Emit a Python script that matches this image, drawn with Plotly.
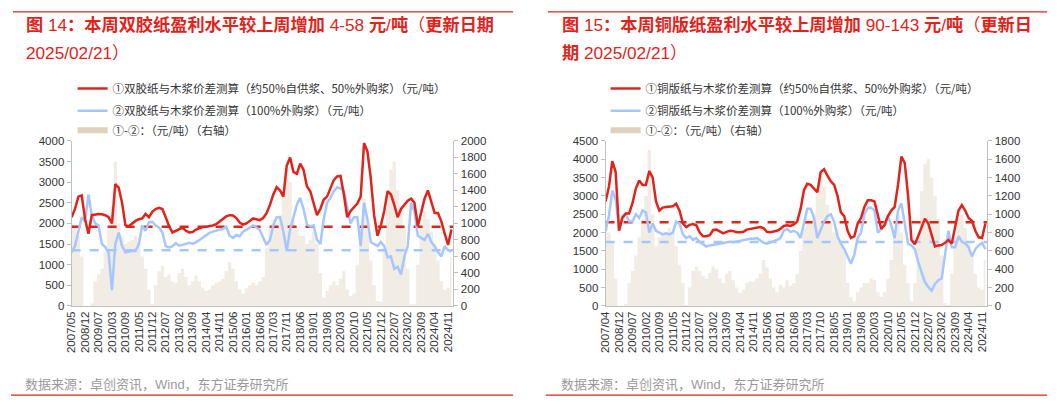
import plotly.graph_objects as go
import numpy as np

W, H = 1061, 408
RED = "#E2231A"
BLUE = "#A6C6FF"
BEIGE = "#F1EDE4"
BEIGE_LEG = "#DDD3BD"
AXC = "#BFBFBF"

# ---------------- data: chart A (双胶纸) ----------------
labels_a = ["2007/05", "2008/12", "2009/07", "2010/03", "2010/09", "2011/05", "2011/12",
            "2012/07", "2013/02", "2013/09", "2014/04", "2014/11", "2015/06", "2016/01",
            "2016/08", "2017/03", "2017/11", "2018/06", "2019/01", "2019/08", "2020/03",
            "2020/10", "2021/05", "2021/12", "2022/07", "2023/02", "2023/09", "2024/04",
            "2024/11"]

red_a = [2150, 2350, 2650, 2680, 2100, 1750, 2200, 2220, 2230, 2220,
         2200, 2150, 2000, 2950, 2870, 2500, 1960, 1930, 2000, 2060,
         2100, 2120, 2230, 2150, 2280, 2350, 2380, 2350, 2150, 1930,
         1780, 1820, 1880, 1900, 1820, 1780, 1790, 1850, 1880, 1910,
         1920, 1930, 1950, 1980, 2050, 2120, 2170, 2200, 2190, 2130,
         2020, 1970, 2000, 2060, 2120, 2100, 2080, 2130, 2250, 2450,
         2700, 2880, 2800, 2650, 3400, 3600, 3250, 3200, 3450, 3300,
         2900, 2780, 2500, 2200, 2350, 2580, 2650, 2850, 3050, 3140,
         3150, 2700, 2150, 2300, 2400, 2480, 2650, 3950, 3750, 3100,
         2200, 1700, 1950, 2300, 2780, 2700, 2450, 2150, 2350, 2450,
         2550, 2600, 2500, 1930, 2250, 2600, 2800, 2550, 2250, 2250,
         2050, 1750, 1480, 1850]

blue_a = [1300, 1450, 1800, 2150, 2050, 2700, 2200, 2000, 1950, 1500,
          1430, 1280, 380, 1500, 1780, 1450, 1300, 1320, 1330, 1330,
          1500, 1950, 1820, 2030, 2040, 1950, 1900, 1780, 1450, 1420,
          1450, 1520, 1460, 1480, 1500, 1530, 1510, 1540, 1600, 1660,
          1720, 1770, 1800, 1820, 1850, 1870, 1920, 1700, 1650, 1720,
          1690, 1800, 1850, 1900, 1950, 1900, 1840, 1650, 1480, 1600,
          1950, 2150, 2150, 1800, 1330, 1850, 2150, 2450, 2620, 2350,
          1980, 1920, 1950, 1600, 1500, 2100, 2500, 2620, 2780, 2880,
          2850, 2800, 2400, 2000, 2150, 2150, 1450, 2500, 2100, 1550,
          1500, 1450, 1550, 1450, 1180, 1200, 900, 950, 760, 1200,
          1450, 2500, 2300, 1700, 1650, 1600, 1750, 1550, 1450, 1300,
          1200, 1450, 1350, 1320]

diff_a = [1000, 980, 850, 600, 0, 0, 30, 300, 380, 450,
          650, 950, 1200, 1750, 1000, 850, 750, 780, 800, 850,
          780, 600, 450, 200, 20, 250, 420, 480, 350, 380,
          300, 280, 400, 450, 350, 250, 300, 370, 300, 220,
          180, 200, 250, 280, 300, 330, 420, 530, 450, 300,
          200, 150, 220, 250, 280, 250, 300, 350, 700, 950,
          1050, 1000, 1100, 1400, 1650, 1500, 1050, 950, 850, 850,
          750, 800, 900, 750, 400, 100, 180, 250, 300, 250,
          330, 420, 200, 120, 150, 500, 950, 1300, 1000, 550,
          250, 60, 50, 700, 1350, 1650, 1750, 1400, 1200, 950,
          450, 20, 20, 500, 950, 1150, 1050, 900, 750, 550,
          300, 200, 220, 600]

avg_red_a, avg_blue_a = 1920, 1350

# ---------------- data: chart B (铜版纸) ----------------
labels_b = ["2007/04", "2008/12", "2009/07", "2010/02", "2010/09", "2011/05", "2011/12",
            "2012/07", "2013/02", "2013/09", "2014/04", "2014/11", "2015/06", "2016/01",
            "2016/08", "2017/03", "2017/10", "2018/05", "2019/01", "2019/08", "2020/03",
            "2020/10", "2021/05", "2021/12", "2022/07", "2023/02", "2023/09", "2024/04",
            "2024/11"]

red_b = [2850, 3250, 3950, 3650, 2050, 2400, 2520, 2520, 2800, 3200,
         3420, 3300, 3300, 3680, 3500, 2850, 2600, 2680, 2700, 2710,
         2720, 2790, 2600, 2250, 2150, 2210, 2230, 2200, 2000, 1900,
         1900, 1930, 2070, 2080, 2030, 1980, 2020, 2050, 2040, 2010,
         2010, 2020, 2080, 2100, 2130, 2140, 2150, 2120, 2020, 2010,
         2020, 2050, 2100, 2180, 2200, 2180, 2220, 2300, 2640, 3150,
         3330, 3300, 3200, 3100, 3650, 3730, 3550, 3400, 3300, 3000,
         2550, 2450, 2050, 1850, 1900, 2250, 2400, 2700, 2880, 2880,
         2850, 2500, 2100, 2200, 2450, 2600, 2700, 3300, 4070, 3900,
         3000, 1800, 1680, 1900, 2150, 2380, 2250, 1900, 1620, 1650,
         1660, 1720, 1800, 1700, 2150, 2600, 2750, 2600, 2400, 2320,
         2050, 1870, 1850, 2250]

blue_b = [2050, 2450, 3150, 2900, 2150, 2450, 2500, 2300, 2300, 2500,
          2400, 2600, 2550, 2000, 2250, 2050, 2000, 1950, 1980, 1950,
          2000, 2300, 2250, 1950, 1850, 1900, 1800, 1850, 1750, 1680,
          1620, 1650, 1670, 1690, 1700, 1720, 1730, 1750, 1740, 1760,
          1780, 1790, 1820, 1830, 1830, 1850, 1790, 1720, 1700, 1730,
          1760, 1800, 1850, 2050, 2100, 2020, 2050, 2000, 1850, 2300,
          2650, 2650, 2400, 1850, 2100, 2300, 2450, 2500, 2300, 1900,
          1700, 1550, 1350, 1150, 1400, 1850, 2000, 2500, 2680, 2680,
          2600, 2000, 2100, 2250, 2450, 2200, 1850, 2600, 2800, 2300,
          1700, 1650, 1550, 1200, 950, 650, 520, 420, 600, 700,
          750, 1400, 2050, 1600, 1600, 1900, 1750, 1700, 1600, 1350,
          1550, 1650, 1720, 1550]

diff_b = [850, 800, 700, 300, 0, 0, 20, 250, 380, 550,
          750, 950, 1200, 1700, 1000, 650, 750, 780, 800, 850,
          800, 650, 450, 250, 10, 200, 380, 430, 380, 330,
          300, 360, 430, 400, 300, 250, 350, 380, 280, 200,
          140, 180, 250, 270, 260, 300, 350, 500, 420, 300,
          200, 150, 230, 200, 280, 220, 250, 350, 600, 850,
          950, 900, 1000, 1250, 1450, 1300, 1100, 900, 800, 850,
          700, 600, 250, 100, 50, 150, 200, 250, 250, 300,
          280, 150, 100, 150, 300, 500, 800, 1000, 800, 450,
          250, 50, 250, 750, 1250, 1550, 1600, 1400, 1200, 950,
          550, 30, 10, 350, 750, 950, 1000, 850, 700, 550,
          350, 200, 180, 500]

avg_red_b, avg_blue_b = 2280, 1740

STEP = 0.25  # spacing of the samples, in tick-label intervals
xa = np.arange(len(red_a)) * STEP
xb = np.arange(len(red_b)) * STEP
X_END = 28.4

leg_a = ["①双胶纸与木浆价差测算（约50%自供浆、50%外购浆）（元/吨）",
         "②双胶纸与木浆价差测算（100%外购浆）（元/吨）",
         "①-②：（元/吨）（右轴）"]
leg_b = ["①铜版纸与木浆价差测算（约50%自供浆、50%外购浆）（元/吨）",
         "②铜版纸与木浆价差测算（100%外购浆）（元/吨）",
         "①-②：（元/吨）（右轴）"]

FONT = "Liberation Sans, Noto Sans CJK SC, sans-serif"
CJK = "Noto Sans CJK SC, Liberation Sans, sans-serif"

fig = go.Figure()


def add_chart(x, red, blue, diff, avg_r, avg_b, xa_name, ybar, yline, legs, legnames):
    # dense weekly columns of ①-② drawn as stepped columns filled to zero (right axis)
    fig.add_trace(go.Scatter(x=x, y=diff, mode="lines", line=dict(width=0, shape="hvh"),
                             fill="tozeroy", fillcolor=BEIGE,
                             xaxis=xa_name, yaxis=ybar, showlegend=False, hoverinfo="skip"))
    fig.add_trace(go.Scatter(x=[0, X_END], y=[avg_r, avg_r], mode="lines",
                             line=dict(color=RED, width=2.5, dash="dash"),
                             xaxis=xa_name, yaxis=yline, showlegend=False))
    fig.add_trace(go.Scatter(x=[0, X_END], y=[avg_b, avg_b], mode="lines",
                             line=dict(color=BLUE, width=2.5, dash="dash"),
                             xaxis=xa_name, yaxis=yline, showlegend=False))
    fig.add_trace(go.Scatter(x=x, y=blue, mode="lines", line=dict(color=BLUE, width=2.5),
                             xaxis=xa_name, yaxis=yline, name=legs[1], legend=legnames[1]))
    fig.add_trace(go.Scatter(x=x, y=red, mode="lines", line=dict(color=RED, width=2.5),
                             xaxis=xa_name, yaxis=yline, name=legs[0], legend=legnames[0]))
    # legend swatch for the columns (right axis series)
    fig.add_trace(go.Scatter(x=[None], y=[None], mode="lines", line=dict(color=BEIGE_LEG, width=6),
                             xaxis=xa_name, yaxis=yline, name=legs[2], legend=legnames[2]))


add_chart(xa, red_a, blue_a, diff_a, avg_red_a, avg_blue_a, "x", "y", "y2", leg_a,
          ["legend", "legend2", "legend3"])
add_chart(xb, red_b, blue_b, diff_b, avg_red_b, avg_blue_b, "x2", "y3", "y4", leg_b,
          ["legend4", "legend5", "legend6"])

ydom = [1 - 309 / H, 1 - 139 / H]
tickfont = dict(size=11.5, color="#333333", family=FONT)


def xaxis(dom, labels, anchor):
    return dict(domain=dom, range=[0, X_END], tickmode="array", tickvals=list(range(len(labels))),
                ticktext=labels, tickangle=-90, showline=True, linecolor=AXC, linewidth=1,
                ticks="", showgrid=False, zeroline=False, anchor=anchor, tickfont=tickfont)


def yaxis(rng, dt, side, anchor, overlay=None, dom=None):
    d = dict(range=rng, dtick=dt, side=side, anchor=anchor, showline=True, linecolor=AXC,
             linewidth=1, ticks="outside", ticklen=4, tickcolor=AXC, showgrid=False,
             zeroline=False, tickfont=tickfont)
    if overlay:
        d["overlaying"] = overlay
    if dom:
        d["domain"] = dom
    return d


def legend(xpx, ypx):
    return dict(x=xpx / W, y=1 - ypx / H, xanchor="left", yanchor="middle",
                bgcolor="rgba(0,0,0,0)", borderwidth=0, itemwidth=30,
                font=dict(size=11.5, color="#333333", family=CJK))


fig.update_layout(
    width=W, height=H, margin=dict(l=0, r=0, t=0, b=0),
    paper_bgcolor="white", plot_bgcolor="white",
    font=dict(family=FONT, color="#333333"),
    xaxis=xaxis([66 / W, 450 / W], labels_a, "y"),
    yaxis=yaxis([0, 2000], 200, "right", "x", dom=ydom),
    yaxis2=yaxis([0, 4000], 500, "left", "x", overlay="y"),
    xaxis2=xaxis([603 / W, 987 / W], labels_b, "y3"),
    yaxis3=yaxis([0, 1800], 200, "right", "x2", dom=ydom),
    yaxis4=yaxis([0, 4500], 500, "left", "x2", overlay="y3"),
    legend=legend(67, 85), legend2=legend(67, 108), legend3=legend(67, 128),
    legend4=legend(603, 85), legend5=legend(603, 108), legend6=legend(603, 128),
)

title_font = dict(size=17.2, color=RED, family=FONT)
ann = [
    dict(text="<b>图</b> 14<b>：本周双胶纸盈利水平较上周增加</b> 4-58 <b>元</b>/<b>吨</b>（<b>更新日期</b>",
         x=18 / W, y=1 - 20 / H),
    dict(text="2025/02/21）", x=18 / W, y=1 - 48 / H),
    dict(text="<b>图</b> 15<b>：本周铜版纸盈利水平较上周增加</b> 90-143 <b>元</b>/<b>吨</b>（<b>更新日</b>",
         x=557 / W, y=1 - 20 / H),
    dict(text="<b>期</b> 2025/02/21）", x=557 / W, y=1 - 48 / H),
]
for a in ann:
    fig.add_annotation(xref="paper", yref="paper", xanchor="left", yanchor="middle",
                       showarrow=False, font=title_font, **a)

for xs in (17, 556):
    fig.add_annotation(text="数据来源：卓创资讯，Wind，东方证券研究所", xref="paper", yref="paper",
                       x=xs / W, y=1 - 390 / H, xanchor="left", yanchor="middle", showarrow=False,
                       font=dict(size=13, color="#9A9A9A", family=FONT))

for x0, x1 in ((7, 510), (545, 1047)):
    fig.add_shape(type="line", xref="paper", yref="paper", x0=x0 / W, x1=x1 / W,
                  y0=1 - 6 / H, y1=1 - 6 / H, line=dict(color=RED, width=1.2))
for x0, x1 in ((5, 510), (543, 1047)):
    fig.add_shape(type="line", xref="paper", yref="paper", x0=x0 / W, x1=x1 / W,
                  y0=1 - 401 / H, y1=1 - 401 / H, line=dict(color=RED, width=1.2))

fig.write_html("out.html")
